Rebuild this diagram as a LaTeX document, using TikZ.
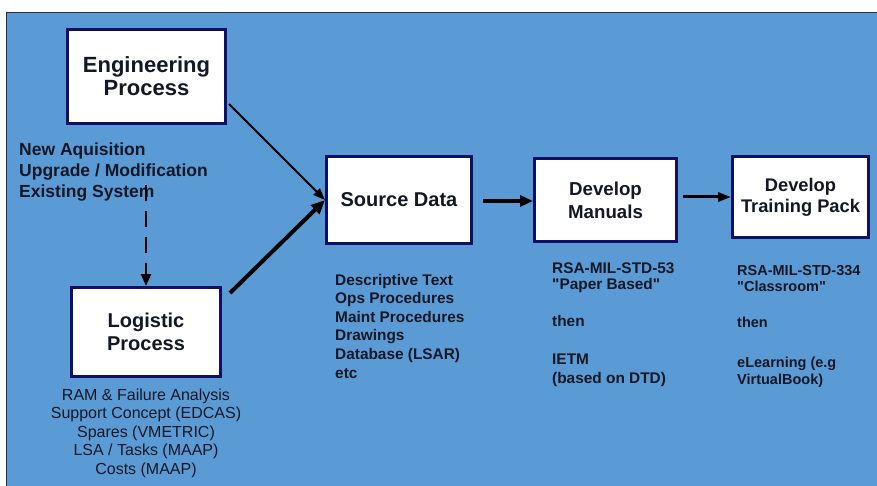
\documentclass[tikz,border=0pt]{standalone}
\usepackage{fontspec}
\setmainfont{Liberation Sans}
\usetikzlibrary{arrows.meta,calc}
\definecolor{bgblue}{RGB}{91,155,213}
\definecolor{boxline}{RGB}{14,16,102}
\definecolor{ink}{RGB}{20,24,38}
\definecolor{frameline}{RGB}{40,44,60}
\newcommand\setfs[2]{\fontsize{#1}{#2}\selectfont}

\begin{document}
\begin{tikzpicture}[x=1pt,y=-1pt,
  procbox/.style={draw=boxline,line width=3pt,fill=white,inner sep=0pt,
                  align=center,text=ink},
  note/.style={text=ink,inner sep=0pt,anchor=base west},
  flowline/.style={draw=black,line cap=butt}]
\useasboundingbox (0,0) rectangle (877,486);

% slide background with its frame
\fill[white] (0,0) rectangle (877,486);
\fill[bgblue] (6.5,12.5) rectangle (877,486);
\draw[frameline,line width=1.2pt] (6.5,486) -- (6.5,12.5) -- (877,12.5);

% process boxes
\node[procbox,minimum width=158pt,minimum height=94pt,font=\setfs{22}{23}\bfseries]
  (eng) at (146.5,76.5) {Engineering\\Process};
\node[procbox,minimum width=149pt,minimum height=89pt,font=\setfs{20}{23}\bfseries]
  (log) at (146,332) {Logistic\\Process};
\node[procbox,minimum width=145pt,minimum height=87pt,font=\setfs{20}{23}\bfseries]
  (src) at (399,200) {Source Data};
\node[procbox,minimum width=142pt,minimum height=83pt,font=\setfs{18.7}{23}\bfseries]
  (man) at (605.5,200) {Develop\\Manuals};
\node[procbox,minimum width=136pt,minimum height=81pt,font=\setfs{18.3}{21}\bfseries]
  (trn) at (800.5,197) {Develop\\Training Pack};

% system categories
\foreach \txt/\yy [count=\i] in {{New Aquisition}/156, {Upgrade / Modification}/177,
    {Existing System}/198}
  \node[note,font=\setfs{17.5}{21}\bfseries] (cat\i) at (19,\yy) {\txt};

% logistic analyses
\foreach \txt [count=\i] in {{RAM \& Failure Analysis}, {Support Concept (EDCAS)},
    {Spares (VMETRIC)}, {LSA / Tasks (MAAP)}, {Costs (MAAP)}}
  \node[text=ink,inner sep=0pt,anchor=base,font=\setfs{16}{18}]
    (ana\i) at (146,{400+18.5*(\i-1)}) {\txt};

% source data contents
\foreach \txt [count=\i] in {Descriptive Text, Ops Procedures, Maint Procedures,
    Drawings, {Database (LSAR)}, etc}
  \node[note,font=\setfs{15.4}{18}\bfseries] (sd\i) at (335,{285+18.6*(\i-1)}) {\txt};

% manual standards
\foreach \txt/\yy [count=\i] in {{RSA-MIL-STD-53}/273,
    {\textquotedbl Paper Based\textquotedbl}/289, then/326,
    IETM/364, {(based on DTD)}/383}
  \node[note,font=\setfs{15.4}{18}\bfseries] (ms\i) at (552,\yy) {\txt};

% training standards
\foreach \txt/\yy [count=\i] in {{RSA-MIL-STD-334}/275,
    {\textquotedbl Classroom\textquotedbl}/291.5, then/327.5,
    {eLearning (e.g}/367, {VirtualBook)}/384.3}
  \node[note,font=\setfs{14.5}{18}\bfseries] (ts\i) at (737,\yy) {\txt};

% connectors
\coordinate (dtop) at (146,185);
\draw[flowline,line width=2.5pt,dash pattern=on 16pt off 10pt,
      -{Triangle[length=12pt,width=10pt]}] (dtop) -- (log.north);
\draw[flowline,line width=2pt,-{Triangle[length=12pt,width=9pt]}]
  ($(eng.east)+(2,27.5)$) -- (src.west);
\draw[flowline,line width=4pt,-{Triangle[length=14pt,width=12pt]}]
  ($(log.north east)+(8,7)$) -- (src.west);
\draw[flowline,line width=4pt,-{Triangle[length=13pt,width=11pt]}]
  ($(src.east)+(10,1)$) -- ($(man.west)+(0,1)$);
\draw[flowline,line width=3pt,-{Triangle[length=13pt,width=9pt]}]
  ($(man.east |- trn.west)+(5,0)$) -- (trn.west);
\end{tikzpicture}
\end{document}
